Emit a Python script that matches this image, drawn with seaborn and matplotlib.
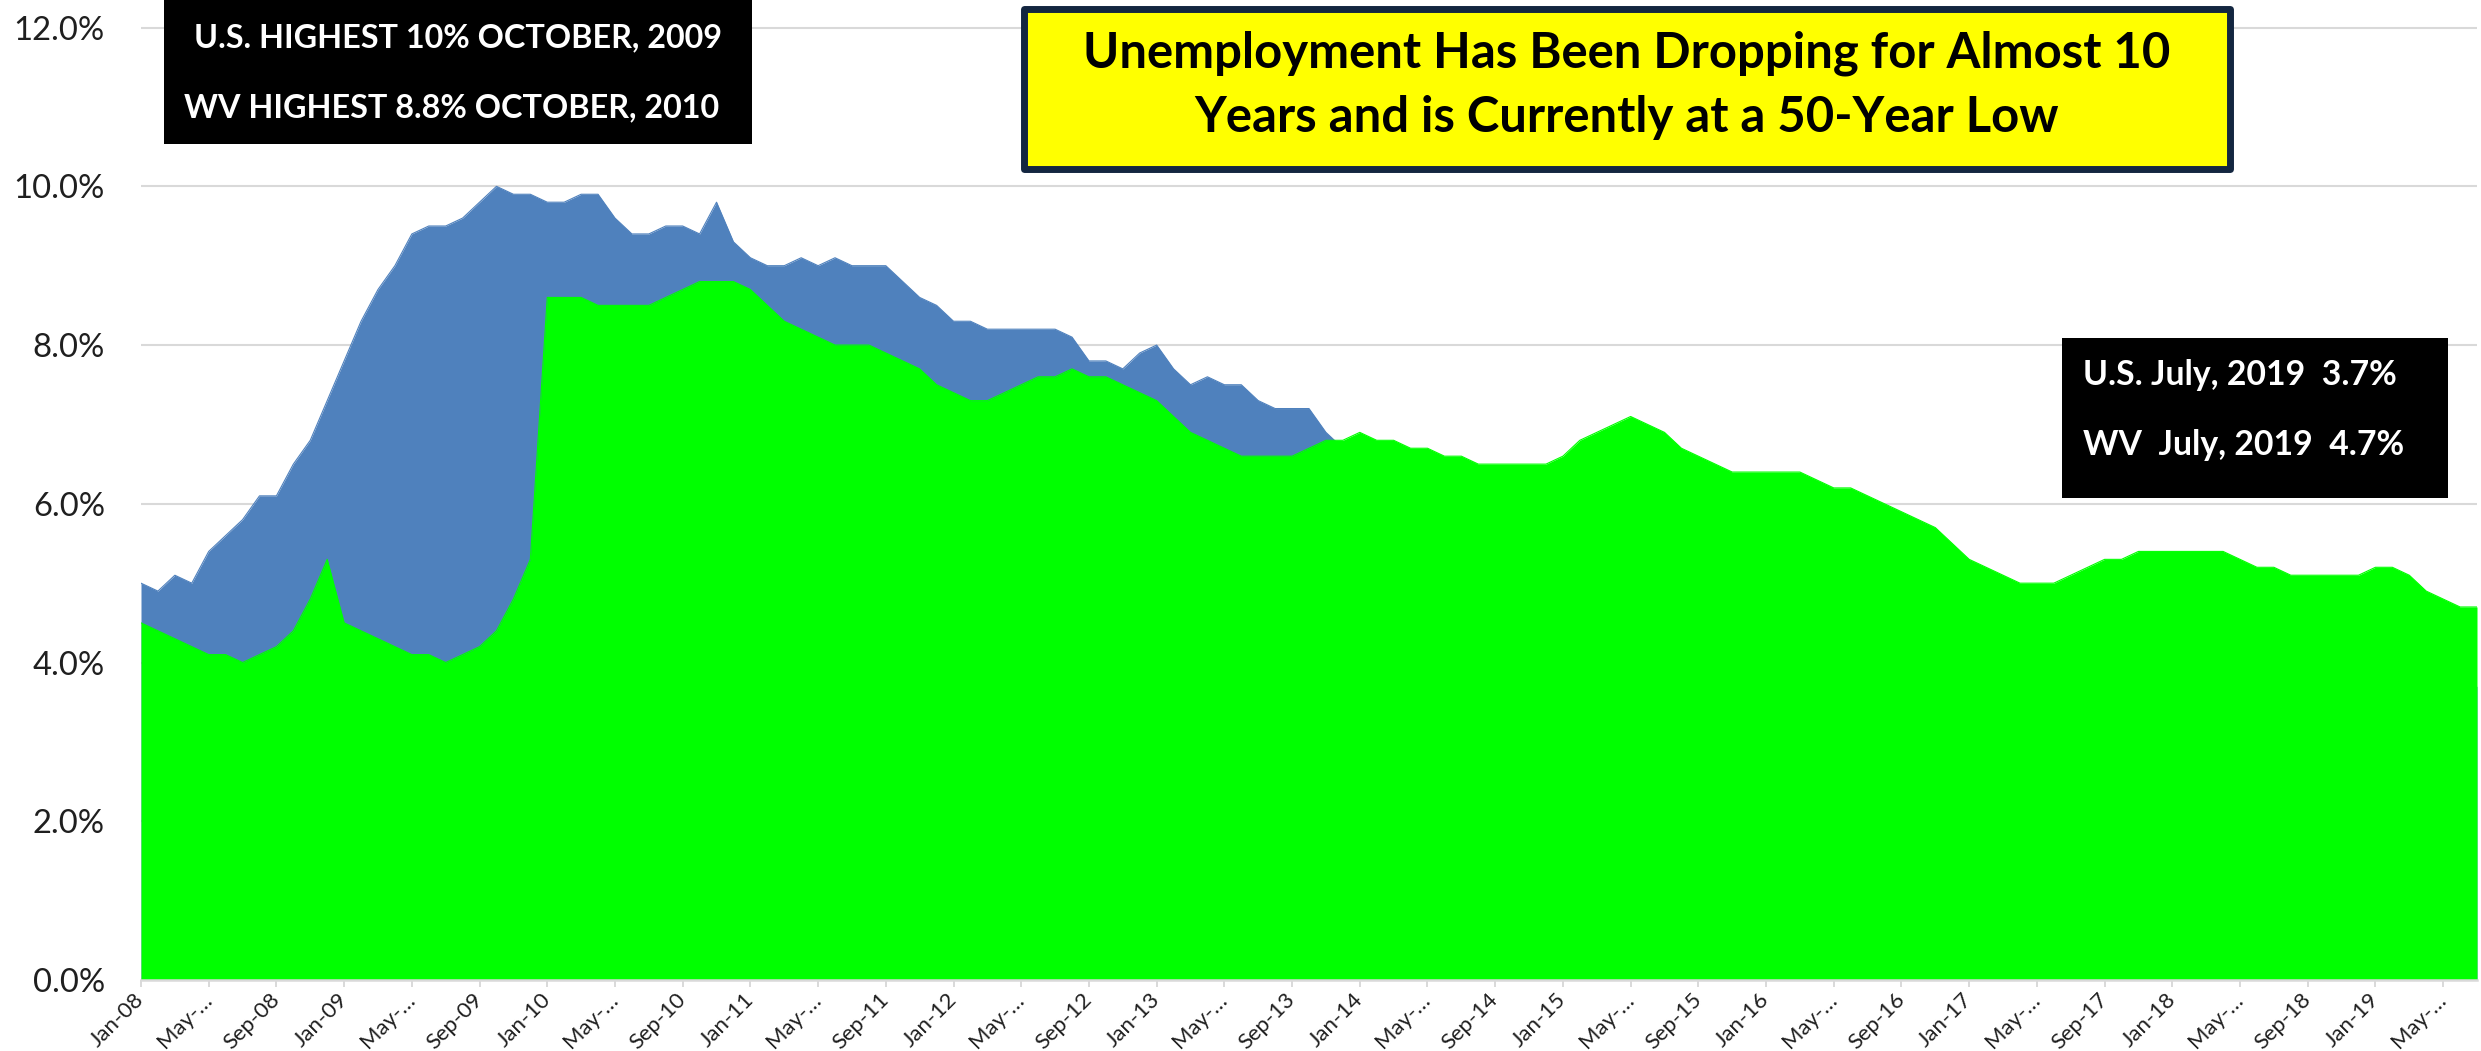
import matplotlib
matplotlib.use('Agg')
import matplotlib.pyplot as plt
import matplotlib.ticker as mticker
from matplotlib.patches import Rectangle
import numpy as np
import pandas as pd
import seaborn as sns

# Monthly unemployment rate (%), Jan-2008 .. Jul-2019
us_rate = [
    5.0, 4.9, 5.1, 5.0, 5.4, 5.6, 5.8, 6.1, 6.1, 6.5, 6.8, 7.3,
    7.8, 8.3, 8.7, 9.0, 9.4, 9.5, 9.5, 9.6, 9.8, 10.0, 9.9, 9.9,
    9.8, 9.8, 9.9, 9.9, 9.6, 9.4, 9.4, 9.5, 9.5, 9.4, 9.8, 9.3,
    9.1, 9.0, 9.0, 9.1, 9.0, 9.1, 9.0, 9.0, 9.0, 8.8, 8.6, 8.5,
    8.3, 8.3, 8.2, 8.2, 8.2, 8.2, 8.2, 8.1, 7.8, 7.8, 7.7, 7.9,
    8.0, 7.7, 7.5, 7.6, 7.5, 7.5, 7.3, 7.2, 7.2, 7.2, 6.9, 6.7,
    6.6, 6.7, 6.7, 6.2, 6.3, 6.1, 6.2, 6.1, 5.9, 5.7, 5.8, 5.6,
    5.7, 5.5, 5.4, 5.4, 5.6, 5.3, 5.2, 5.1, 5.0, 5.0, 5.1, 5.0,
    4.9, 4.9, 5.0, 5.1, 4.8, 4.9, 4.8, 4.9, 5.0, 4.9, 4.7, 4.7,
    4.7, 4.6, 4.4, 4.4, 4.4, 4.3, 4.3, 4.4, 4.2, 4.1, 4.2, 4.1,
    4.1, 4.1, 4.0, 4.0, 3.8, 4.0, 3.8, 3.8, 3.7, 3.8, 3.8, 3.9,
    4.0, 3.8, 3.8, 3.6, 3.6, 3.7, 3.7,
]
wv_rate = [
    4.5, 4.4, 4.3, 4.2, 4.1, 4.1, 4.0, 4.1, 4.2, 4.4, 4.8, 5.3,
    4.5, 4.4, 4.3, 4.2, 4.1, 4.1, 4.0, 4.1, 4.2, 4.4, 4.8, 5.3,
    8.6, 8.6, 8.6, 8.5, 8.5, 8.5, 8.5, 8.6, 8.7, 8.8, 8.8, 8.8,
    8.7, 8.5, 8.3, 8.2, 8.1, 8.0, 8.0, 8.0, 7.9, 7.8, 7.7, 7.5,
    7.4, 7.3, 7.3, 7.4, 7.5, 7.6, 7.6, 7.7, 7.6, 7.6, 7.5, 7.4,
    7.3, 7.1, 6.9, 6.8, 6.7, 6.6, 6.6, 6.6, 6.6, 6.7, 6.8, 6.8,
    6.9, 6.8, 6.8, 6.7, 6.7, 6.6, 6.6, 6.5, 6.5, 6.5, 6.5, 6.5,
    6.6, 6.8, 6.9, 7.0, 7.1, 7.0, 6.9, 6.7, 6.6, 6.5, 6.4, 6.4,
    6.4, 6.4, 6.4, 6.3, 6.2, 6.2, 6.1, 6.0, 5.9, 5.8, 5.7, 5.5,
    5.3, 5.2, 5.1, 5.0, 5.0, 5.0, 5.1, 5.2, 5.3, 5.3, 5.4, 5.4,
    5.4, 5.4, 5.4, 5.4, 5.3, 5.2, 5.2, 5.1, 5.1, 5.1, 5.1, 5.1,
    5.2, 5.2, 5.1, 4.9, 4.8, 4.7, 4.7,
]
x_labels = [
    'Jan-08', 'May-…', 'Sep-08', 'Jan-09', 'May-…', 'Sep-09', 'Jan-10', 'May-…', 'Sep-10',
    'Jan-11', 'May-…', 'Sep-11', 'Jan-12', 'May-…', 'Sep-12', 'Jan-13', 'May-…', 'Sep-13',
    'Jan-14', 'May-…', 'Sep-14', 'Jan-15', 'May-…', 'Sep-15', 'Jan-16', 'May-…', 'Sep-16',
    'Jan-17', 'May-…', 'Sep-17', 'Jan-18', 'May-…', 'Sep-18', 'Jan-19', 'May-…',
]
y_ticks = [0, 2, 4, 6, 8, 10, 12]

df = pd.DataFrame({'month': np.arange(len(us_rate)), 'US': us_rate, 'WV': wv_rate})

sns.set_theme(style='white')
plt.rcParams['font.family'] = ['Lato', 'DejaVu Sans']

W, H = 2481, 1051
fig = plt.figure(figsize=(W / 100, H / 100), dpi=100)
renderer = fig.canvas.get_renderer()


def fit_size(s, target_px, weight='normal', start=20):
    # font size that makes string s about target_px wide
    t = fig.text(0, 0, s, fontsize=start, fontweight=weight)
    w = t.get_window_extent(renderer).width
    t.remove()
    return start * target_px / w


def fx(px):
    return px / W


def fy(py):
    return 1 - py / H


ax = fig.add_axes([141 / W, 1 - 980 / H, 2336 / W, 954 / H])

blue = '#4F81BD'
green = '#00FF00'
grid = '#D9D9D9'
ink = '#1F1F1F'

# US area first, WV drawn on top of it
ax.fill_between(df['month'], 0, df['US'], color=blue, lw=0, zorder=1)
sns.lineplot(data=df, x='month', y='US', color=blue, lw=0.8, ax=ax, zorder=1.1)
ax.fill_between(df['month'], 0, df['WV'], color=green, lw=0, zorder=1.2)
sns.lineplot(data=df, x='month', y='WV', color=green, lw=0.8, ax=ax, zorder=1.3)

ax.set_xlim(0, len(us_rate) - 1)
ax.set_ylim(0, 12.02)
ax.set_xlabel('')
ax.set_ylabel('')

ytick_fs = fit_size('0.0%', 72)
xtick_fs = fit_size('Jan-08', 67)

ax.set_yticks(y_ticks)
ax.yaxis.set_major_formatter(mticker.StrMethodFormatter('{x:.1f}%'))
ax.set_xticks(np.arange(0, len(us_rate), 4))
ax.set_xticklabels(x_labels, rotation=45, ha='right', va='center',
                   rotation_mode='anchor', fontsize=xtick_fs, color=ink)
ax.tick_params(axis='y', length=0, pad=26, labelsize=ytick_fs, labelcolor=ink)
ax.tick_params(axis='x', length=5, width=1.4, color=grid, pad=7, bottom=True)

ax.yaxis.grid(True, color=grid, lw=1.5)
ax.xaxis.grid(False)
ax.set_axisbelow(True)
for side in ['top', 'right', 'left']:
    ax.spines[side].set_visible(False)
ax.spines['bottom'].set_color(grid)
ax.spines['bottom'].set_linewidth(1.8)

# annotation boxes
fig.add_artist(Rectangle((fx(164), fy(144)), (752 - 164) / W, 144 / H,
                         transform=fig.transFigure, facecolor='black', edgecolor='none'))
fig.add_artist(Rectangle((fx(1023.5), fy(168.5)), (2229.5 - 1023.5) / W, (168.5 - 8.5) / H,
                         transform=fig.transFigure, facecolor='#FFFF00', edgecolor='#132640',
                         lw=5, joinstyle='round'))
fig.add_artist(Rectangle((fx(2062), fy(498)), (2448 - 2062) / W, (498 - 338) / H,
                         transform=fig.transFigure, facecolor='black', edgecolor='none'))

left_fs = fit_size('U.S. HIGHEST 10% OCTOBER, 2009', 528, weight='bold')
box_font = dict(color='white', fontsize=left_fs, fontweight='bold', va='baseline')
fig.text(fx(458), fy(47), 'U.S. HIGHEST 10% OCTOBER, 2009', ha='center', **box_font)
fig.text(fx(452), fy(117), 'WV HIGHEST 8.8% OCTOBER, 2010', ha='center', **box_font)

right_fs = fit_size('U.S. July, 2019  3.7%', 314, weight='bold')
box_font['fontsize'] = right_fs
fig.text(fx(2083), fy(385), 'U.S. July, 2019  3.7%', ha='left', **box_font)
fig.text(fx(2083), fy(455), 'WV  July, 2019  4.7%', ha='left', **box_font)

title_fs = fit_size('Unemployment Has Been Dropping for Almost 10', 1088, weight='bold')
title_font = dict(color='black', fontsize=title_fs, fontweight='bold', va='baseline', ha='center')
fig.text(fx(1627), fy(68), 'Unemployment Has Been Dropping for Almost 10', **title_font)
fig.text(fx(1627), fy(132), 'Years and is Currently at a 50-Year Low', **title_font)

fig.savefig('out.png', dpi=100)
